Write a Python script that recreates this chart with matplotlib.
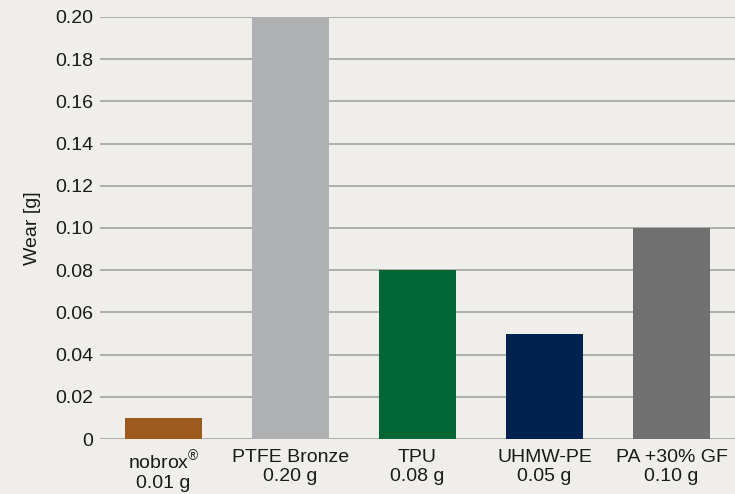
import numpy as np
import matplotlib
matplotlib.use('Agg')
import matplotlib.pyplot as plt

plt.rcParams['font.family'] = ['Liberation Sans', 'DejaVu Sans']
plt.rcParams['mathtext.fontset'] = 'custom'
plt.rcParams['mathtext.rm'] = 'Liberation Sans'

materials = ['nobrox$^{®}$', 'PTFE Bronze', 'TPU', 'UHMW-PE', 'PA +30% GF']
wear = [0.01, 0.20, 0.08, 0.05, 0.10]
colors = ['#9c5a1c', '#b0b1b3', '#006633', '#002250', '#707070']
yticks = [0, 0.02, 0.04, 0.06, 0.08, 0.10, 0.12, 0.14, 0.16, 0.18, 0.20]
ytick_labels = ['0'] + ['%.2f' % v for v in yticks[1:]]

bg = '#efeeea'
fig = plt.figure(figsize=(7.35, 4.94), dpi=100, facecolor=bg)
ax = fig.add_axes([0.136, 0.111, 0.864, 0.855], facecolor=bg)

x = np.arange(len(materials))
ax.bar(x, wear, width=0.6, color=colors, zorder=3)

ax.set_xlim(-0.5, len(materials) - 0.5)
ax.set_ylim(0, 0.20)
ax.set_yticks(yticks)
ax.set_yticklabels(ytick_labels)
ax.yaxis.grid(True, color='#a3a3a3', linewidth=1.2, zorder=0)
ax.set_xticks(x)
ax.set_xticklabels(['%s\n%.2f g' % (m, w) for m, w in zip(materials, wear)],
                   linespacing=1.15)
for s in ax.spines.values():
    s.set_visible(False)
ax.tick_params(axis='both', length=0, labelsize=14, colors='#1a1a1a')
ax.tick_params(axis='y', pad=5)
ax.tick_params(axis='x', pad=7)
ax.set_ylabel('Wear [g]', fontsize=14, color='#1a1a1a', labelpad=10)

fig.savefig('out.png', dpi=100, facecolor=bg)
